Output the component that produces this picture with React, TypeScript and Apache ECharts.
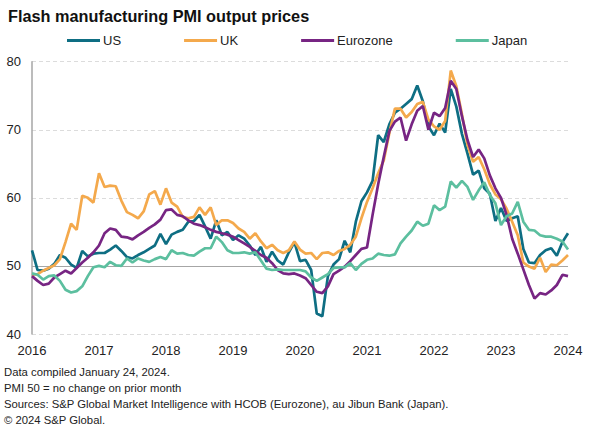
import React, { useEffect, useRef } from "react";
import * as echarts from "echarts";

const months: string[] = [];
for (let y = 2016; y <= 2024; y++) {
  for (let m = 1; m <= 12; m++) {
    if (y === 2024 && m > 1) break;
    months.push(`${y}-${String(m).padStart(2, "0")}`);
  }
}

const usValues = [
  52.3, 49.4, 49.3, 49.6, 50.3, 51.6, 51.2, 50.2, 49.7, 52.2, 51.4, 51.8,
  51.9, 51.9, 52.4, 53.0, 52.2, 51.3, 51.1, 51.6, 52.0, 52.5, 53.0, 54.7,
  53.2, 54.6, 55.0, 55.3, 56.5, 56.6, 57.5, 55.8, 54.0, 56.7, 54.5, 55.0,
  53.8, 54.5, 54.0, 53.0, 51.6, 52.8, 50.6, 52.1, 50.8, 50.2, 52.0, 53.5,
  50.7, 50.9, 49.4, 43.0, 42.6, 48.5, 50.2, 51.0, 53.7, 52.0, 56.5, 59.5,
  60.8, 62.5, 69.2, 68.2, 70.8, 72.5, 73.1, 73.8, 74.5, 76.5, 74.2, 70.5,
  69.2, 70.9, 69.6, 76.0, 73.4, 69.4, 66.5, 63.4, 64.0, 61.4, 60.6, 56.6,
  58.5, 56.6, 57.0, 57.3, 52.5, 50.5, 50.4, 51.6, 52.3, 52.6, 51.5, 53.5,
  54.8,
];

const ukValues = [
  48.7, 48.8, 49.3, 49.7, 50.1, 51.0, 53.5, 56.2, 55.3, 60.3, 60.0, 59.3,
  63.6, 61.6, 61.8, 61.7, 59.6, 57.9, 57.5, 57.0, 58.0, 60.5, 61.0, 59.0,
  61.4, 59.3, 58.7, 57.2, 57.0, 57.2, 58.6, 57.5, 58.6, 56.0, 56.7, 56.7,
  56.3, 55.5, 55.0, 54.0, 54.8, 53.6, 52.6, 53.1, 52.3, 51.9, 52.3, 53.6,
  52.4, 51.8, 51.9, 51.0, 51.9, 52.0, 51.6, 52.2, 52.5, 53.1, 54.3, 57.0,
  59.4, 61.4, 63.6, 65.5, 69.5, 73.1, 73.1, 71.8, 72.6, 73.8, 74.1, 71.5,
  70.5, 70.0, 71.3, 78.7, 76.4, 72.3, 67.8, 65.3, 66.0, 64.2, 62.0, 60.5,
  59.8, 58.4, 56.5, 54.5, 50.5, 49.9, 49.6, 51.2, 49.1, 50.2, 50.1, 50.8,
  51.6,
];

const euroValues = [
  48.5, 47.8, 47.2, 47.4, 48.3, 48.8, 49.3, 48.9, 49.7, 50.5, 51.2, 52.0,
  53.0, 54.8, 55.5, 55.3, 54.3, 54.2, 53.9, 54.5, 55.0, 55.6, 56.1, 56.8,
  58.2, 58.3, 57.5, 57.3, 56.7, 56.2, 56.0, 55.7, 55.3, 55.0, 54.8, 54.6,
  54.3, 53.8, 53.3, 52.8, 52.2, 51.6, 51.2, 50.4, 49.4, 48.9, 48.8, 48.9,
  48.6, 48.2, 47.2, 46.2, 46.0, 47.0, 48.8, 49.3, 49.9, 50.7, 51.6, 52.5,
  52.7, 57.5, 62.0, 66.0, 69.8, 71.2, 71.8, 68.4, 70.8, 72.8, 73.5, 70.0,
  72.5, 72.0, 73.2, 77.2, 76.0, 72.0, 68.5, 66.0, 67.1, 65.8, 63.3, 61.4,
  60.0, 57.5, 54.0, 51.8, 49.5, 47.2, 45.2, 46.0, 45.8, 46.4, 47.2, 48.7,
  48.5,
];

const japanValues = [
  48.9, 48.7, 48.0, 48.5, 48.6, 47.8, 46.5, 46.1, 46.3, 47.0, 48.5, 49.8,
  50.0, 49.8, 50.6, 50.1, 50.0, 51.1, 50.5, 51.1, 50.8, 50.6, 51.0, 51.3,
  51.0, 52.3, 51.8, 51.9, 51.6, 51.5, 52.1, 52.6, 52.6, 54.3, 53.5, 52.3,
  51.9, 51.9, 52.0, 51.8, 52.0, 50.8, 49.6, 49.4, 49.5, 49.4, 49.4, 49.4,
  49.4, 49.2, 48.3, 47.8, 48.3, 48.8, 49.7, 49.8, 49.8, 50.4, 49.4, 50.3,
  50.9, 51.1, 51.8, 51.6, 51.5, 51.7, 53.3, 54.3, 55.2, 56.5, 55.9, 56.2,
  58.9, 58.2, 58.7, 62.4, 61.5, 62.5, 61.6, 59.7, 61.1, 62.3, 60.4, 59.2,
  56.0, 57.3, 57.7, 59.4, 56.5, 55.3, 55.2, 54.5, 54.3, 54.3, 54.0, 53.6,
  52.4,
];

const seriesNames = ["US", "UK", "Eurozone", "Japan"];
const seriesColors = ["#0e6e83", "#f4a94c", "#772583", "#5cbf9f"];

const footerLines = [
  "Data compiled January 24, 2024.",
  "PMI 50 = no change on prior month",
  "Sources: S&P Global Market Intelligence with HCOB (Eurozone), au Jibun Bank (Japan).",
  "\u00a9 2024 S&P Global.",
];

const FONT = "'Liberation Sans', Arial, Helvetica, sans-serif";

export default function App() {
  const ref = useRef<HTMLDivElement>(null);
  useEffect(() => {
    if (!ref.current) return;
    const chart = echarts.init(ref.current, null, { renderer: "svg" });
    const dataSets = [usValues, ukValues, euroValues, japanValues];
    const series: any[] = seriesNames.map((name, i) => ({
      name,
      type: "line",
      data: dataSets[i],
      showSymbol: false,
      symbol: "none",
      lineStyle: { color: seriesColors[i], width: 2.7 },
      itemStyle: { color: seriesColors[i] },
      z: 3 + i,
    }));
    series[0].markLine = {
      silent: true,
      symbol: "none",
      label: { show: false },
      lineStyle: { color: "#a6a6a6", type: "solid", width: 1 },
      data: [{ yAxis: 50 }],
      z: 1,
    };
    chart.setOption({
      animation: false,
      backgroundColor: "#ffffff",
      textStyle: { fontFamily: FONT },
      title: {
        text: "Flash manufacturing PMI output prices",
        left: 3,
        top: 3,
        textStyle: { fontFamily: FONT, fontSize: 16.3, fontWeight: "bold", color: "#111" },
      },
      legend: {
        left: 62,
        top: 29,
        itemWidth: 33,
        itemHeight: 3,
        itemGap: 63,
        icon: "rect",
        textStyle: { fontFamily: FONT, fontSize: 13, color: "#222", padding: [0, 0, 0, -2] },
        data: seriesNames,
      },
      grid: { left: 32, right: 24, top: 61.7, bottom: 99, containLabel: false },
      xAxis: {
        type: "category",
        data: months,
        boundaryGap: false,
        axisLine: { show: false },
        axisTick: { show: false },
        axisLabel: {
          interval: (idx: number) => idx % 12 === 0,
          formatter: (v: string) => v.slice(0, 4),
          fontFamily: FONT,
          fontSize: 13,
          color: "#222",
          margin: 10,
        },
        splitLine: { show: false },
      },
      yAxis: {
        type: "value",
        min: 40,
        max: 80,
        interval: 10,
        axisLine: { show: true, lineStyle: { color: "#a6a6a6", width: 1.5 } },
        axisTick: { show: false },
        axisLabel: { fontFamily: FONT, fontSize: 13, color: "#222", margin: 11 },
        splitLine: { show: true, lineStyle: { color: "#dcdcdc", type: [4, 3], width: 1 } },
      },
      graphic: footerLines.map((t, i) => ({
        type: "text",
        left: 4,
        top: 366 + i * 16.3,
        style: { text: t, fontFamily: FONT, fontSize: 11.3, fill: "#222" },
      })),
      series,
    });
    return () => chart.dispose();
  }, []);
  return (
    <div
      ref={ref}
      style={{ position: "fixed", left: 0, top: 0, width: 592, height: 433, background: "#fff" }}
    />
  );
}
